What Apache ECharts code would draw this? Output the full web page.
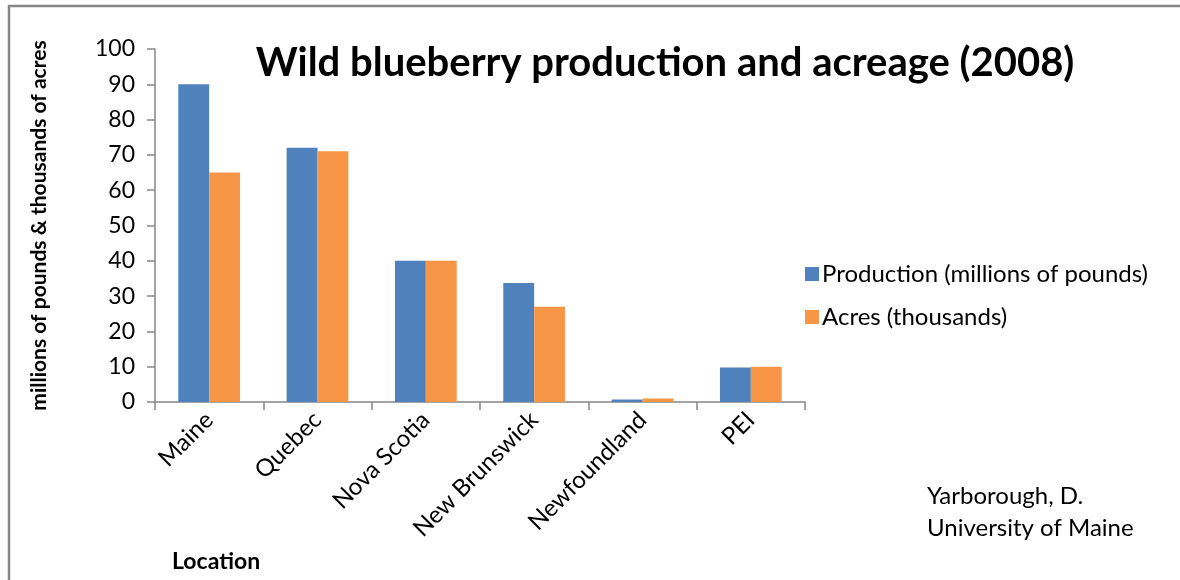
<!DOCTYPE html>
<html><head><meta charset="utf-8">
<script src="https://cdn.jsdelivr.net/npm/echarts@6/dist/echarts.min.js"></script>
<style>html,body{margin:0;padding:0;background:#fff}#c{width:1180px;height:580px}</style>
</head><body><div id="c"></div>
<script>
const categories = ['Maine','Quebec','Nova Scotia','New Brunswick','Newfoundland','PEI'];
const production = [90, 72, 40, 33.7, 0.7, 9.8];
const acres = [65, 71, 40, 27, 1, 10];
const seriesNames = ['Production (millions of pounds)','Acres (thousands)'];
const F = 'Lato, "Open Sans", sans-serif';
const chart = echarts.init(document.getElementById('c'));
chart.setOption({
  animation:false,
  title:{text:'Wild blueberry production and acreage (2008)',left:660,top:38,textAlign:'center',
    textStyle:{fontFamily:F,fontWeight:'bold',fontSize:40,color:'#000'}},
  legend:{orient:'vertical',left:800,top:257,itemWidth:14,itemHeight:14,itemGap:19,icon:'rect',
    textStyle:{fontFamily:F,fontSize:24,color:'#000',padding:[0,0,0,-2]},data:seriesNames},
  grid:{left:155,right:375,top:49,bottom:178},
  xAxis:{type:'category',data:categories,
    axisLine:{lineStyle:{color:'#868686',width:1.5}},
    axisTick:{show:true,length:8,lineStyle:{color:'#868686',width:1.5}},
    axisLabel:{rotate:45,fontFamily:F,fontSize:24,color:'#000',margin:14,interval:0}},
  yAxis:{type:'value',min:0,max:100,interval:10,
    name:'millions of pounds & thousands of acres',nameLocation:'middle',nameGap:105,nameRotate:90,
    nameTextStyle:{fontFamily:F,fontWeight:'bold',fontSize:21,color:'#000'},
    axisLine:{show:true,lineStyle:{color:'#868686',width:1.5}},
    axisTick:{show:true,length:8,lineStyle:{color:'#868686',width:1.5}},
    splitLine:{show:false},
    axisLabel:{fontFamily:F,fontSize:23,color:'#000',margin:20}},
  series:[
    {name:seriesNames[0],type:'bar',data:production,barGap:'0%',barCategoryGap:'43%',
      itemStyle:{color:'#4f81bd'}},
    {name:seriesNames[1],type:'bar',data:acres,itemStyle:{color:'#f79646'}}
  ],
  graphic:[
    {type:'rect',shape:{x:9,y:6,width:1180,height:590},style:{fill:null,stroke:'#868686',lineWidth:2.5},silent:true},
    {type:'text',left:172,top:550,style:{text:'Location',fontFamily:F,fontWeight:'bold',fontSize:23,fill:'#000'}},
    {type:'text',left:927,top:480,style:{text:'Yarborough, D.\nUniversity of Maine',fontFamily:F,fontSize:24,lineHeight:32,fill:'#000'}}
  ]
});
</script></body></html>
